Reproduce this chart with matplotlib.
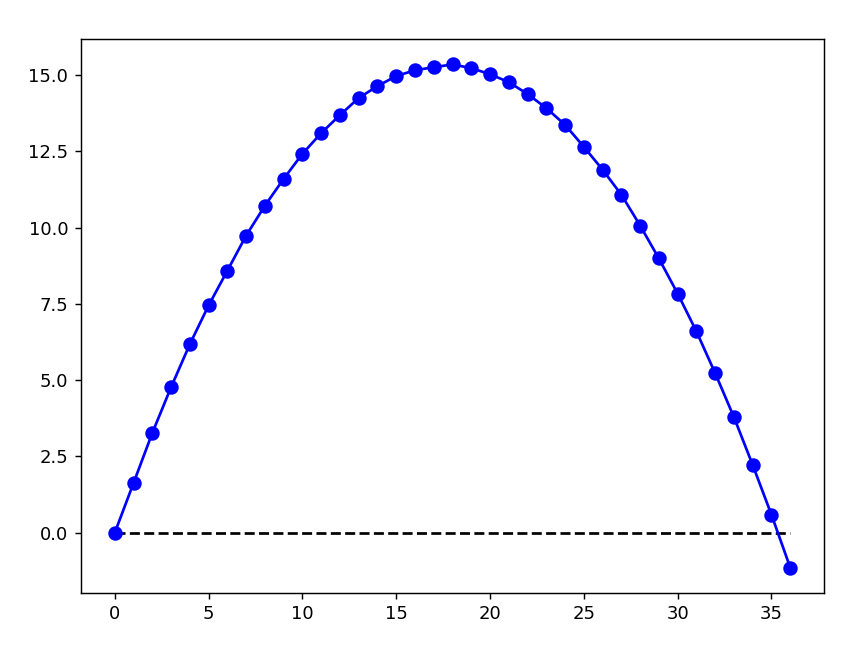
import matplotlib
matplotlib.use("Agg")
import matplotlib.pyplot as plt
import numpy as np

# sample index and height
t = np.arange(0, 37)
height = [0.0, 1.63, 3.27, 4.77, 6.18, 7.45, 8.59, 9.74, 10.72, 11.60,
          12.42, 13.10, 13.69, 14.25, 14.64, 14.97, 15.16, 15.26, 15.35,
          15.23, 15.03, 14.77, 14.38, 13.92, 13.37, 12.65, 11.90, 11.08,
          10.07, 8.99, 7.84, 6.60, 5.23, 3.79, 2.22, 0.59, -1.14]
ground_x = [0, 36]
ground_y = [0, 0]

dpi = 130
fig = plt.figure(figsize=(843 / dpi, 645 / dpi), dpi=dpi)
ax = fig.add_axes([81 / 843, 52.3 / 645, 743 / 843, 553.4 / 645])

ax.plot(ground_x, ground_y, "k--")
ax.plot(t, height, "bo-", markersize=7)

fig.savefig("out.png", dpi=dpi)
